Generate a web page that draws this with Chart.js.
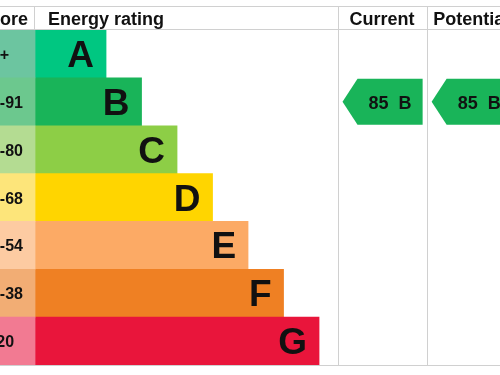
<!DOCTYPE html>
<html>
<head>
<meta charset="utf-8">
<script src="https://cdn.jsdelivr.net/npm/chart.js@4"></script>
<style>
    html, body { margin: 0; padding: 0; background: #fff; overflow: hidden; width: 500px; height: 375px; }
    #wrap { position: absolute; left: -26px; top: 0; width: 560px; height: 375px; }
</style>
</head>
<body>
<div id="wrap"><canvas id="epcChart" width="560" height="375"></canvas></div>
<script>
// EPC rating bands, top (best) to bottom (worst)
const BANDS = ['A', 'B', 'C', 'D', 'E', 'F', 'G'];
const SCORE_RANGES = ['92+', '81-91', '69-80', '55-68', '39-54', '21-38', '1-20'];
const BAND_MIN_SCORE = [92, 81, 69, 55, 39, 21, 1];
const BAND_LENGTHS = [2, 3, 4, 5, 6, 7, 8];
const BAND_COLORS = ['#00c781', '#19b459', '#8dce46', '#ffd500', '#fcaa65', '#ef8023', '#e9153b'];
const SCORE_TINTS = ['#6cc5a0', '#6cc88e', '#b4dc92', '#fde57a', '#fdcba2', '#f2ad74', '#f27a92'];

const CURRENT_SCORE = 85;
const POTENTIAL_SCORE = 85;

// table layout, in band-length units of the x axis
const SCORE_COL_START = -1.72;
const CURRENT_COL = [8.52, 11.03];
const POTENTIAL_COL = [11.03, 13.55];
const GRID_COLOR = '#d0d0d0';
const FONT = '"Liberation Sans", Arial, sans-serif';

function bandIndex(score) {
    return BAND_MIN_SCORE.findIndex(min => score >= min);
}

const tablePlugin = {
    id: 'epcTable',
    afterDatasetsDraw(chart) {
        const { ctx, chartArea, scales: { x, y } } = chart;
        const rowH = (chartArea.bottom - chartArea.top) / BANDS.length;
        const headTop = chartArea.top - 24;
        const x0 = x.getPixelForValue(0);
        const curL = x.getPixelForValue(CURRENT_COL[0]);
        const curR = x.getPixelForValue(CURRENT_COL[1]);
        const potL = x.getPixelForValue(POTENTIAL_COL[0]);
        const potR = x.getPixelForValue(POTENTIAL_COL[1]);

        ctx.save();
        // grid lines
        ctx.strokeStyle = GRID_COLOR;
        ctx.lineWidth = 1;
        ctx.beginPath();
        ctx.moveTo(0, headTop + 0.5); ctx.lineTo(chart.width, headTop + 0.5);
        ctx.moveTo(0, chartArea.top - 0.5); ctx.lineTo(chart.width, chartArea.top - 0.5);
        ctx.moveTo(0, chartArea.bottom + 0.5); ctx.lineTo(chart.width, chartArea.bottom + 0.5);
        ctx.moveTo(Math.round(x0) - 0.5, headTop); ctx.lineTo(Math.round(x0) - 0.5, chartArea.top);
        [curL, potL].forEach(px => {
            ctx.moveTo(Math.round(px) + 0.5, headTop);
            ctx.lineTo(Math.round(px) + 0.5, chartArea.bottom + 1);
        });
        ctx.stroke();

        // header
        ctx.fillStyle = '#111';
        ctx.font = 'bold 18px ' + FONT;
        ctx.textBaseline = 'alphabetic';
        ctx.textAlign = 'left';
        ctx.fillText('Score', chartArea.left + 4, headTop + 19);
        ctx.fillText('Energy rating', x0 + 13, headTop + 19);
        ctx.textAlign = 'center';
        ctx.fillText('Current', (curL + curR) / 2, headTop + 19);
        ctx.fillText('Potential', (potL + potR) / 2, headTop + 19);

        // score ranges and band letters
        BANDS.forEach((band, i) => {
            const cy = y.getPixelForValue(i);
            ctx.fillStyle = '#111';
            ctx.textAlign = 'left';
            ctx.font = 'bold 16px ' + FONT;
            ctx.fillText(SCORE_RANGES[i], chartArea.left + 8, cy + 6);
            ctx.textAlign = 'right';
            ctx.font = 'bold 37px ' + FONT;
            ctx.fillText(band, x.getPixelForValue(BAND_LENGTHS[i]) - 12, cy + 13);
        });

        // rating arrows
        const drawArrow = (score, left, right) => {
            const i = bandIndex(score);
            const cy = y.getPixelForValue(i);
            const top = cy - rowH / 2 + 1;
            const bottom = cy + rowH / 2 - 1;
            const tip = left + 5;
            const body = tip + 15;
            const end = right - 4;
            ctx.fillStyle = BAND_COLORS[i];
            ctx.beginPath();
            ctx.moveTo(tip, cy);
            ctx.lineTo(body, top);
            ctx.lineTo(end, top);
            ctx.lineTo(end, bottom);
            ctx.lineTo(body, bottom);
            ctx.closePath();
            ctx.fill();
            ctx.fillStyle = '#111';
            ctx.font = 'bold 18px ' + FONT;
            ctx.textAlign = 'left';
            ctx.fillText(score + '  ' + BANDS[i], body + 11, cy + 7);
        };
        drawArrow(CURRENT_SCORE, curL, curR);
        drawArrow(POTENTIAL_SCORE, potL, potR);
        ctx.restore();
    }
};

new Chart(document.getElementById('epcChart'), {
    type: 'bar',
    data: {
        labels: BANDS,
        datasets: [
            {
                label: 'Score',
                data: BANDS.map(() => [SCORE_COL_START, 0]),
                backgroundColor: SCORE_TINTS,
                borderWidth: 0,
                grouped: false,
                barPercentage: 1,
                categoryPercentage: 1
            },
            {
                label: 'Energy rating',
                data: BAND_LENGTHS.map(len => [0, len]),
                backgroundColor: BAND_COLORS,
                borderWidth: 0,
                grouped: false,
                barPercentage: 1,
                categoryPercentage: 1
            }
        ]
    },
    options: {
        indexAxis: 'y',
        responsive: false,
        animation: false,
        layout: { padding: { top: 30, bottom: 10, left: 0, right: 0 } },
        plugins: { legend: { display: false }, tooltip: { enabled: false } },
        scales: {
            x: { type: 'linear', min: SCORE_COL_START, max: SCORE_COL_START + 560 / 35.5, display: false },
            y: { type: 'category', display: false }
        }
    },
    plugins: [tablePlugin]
});
</script>
</body>
</html>
